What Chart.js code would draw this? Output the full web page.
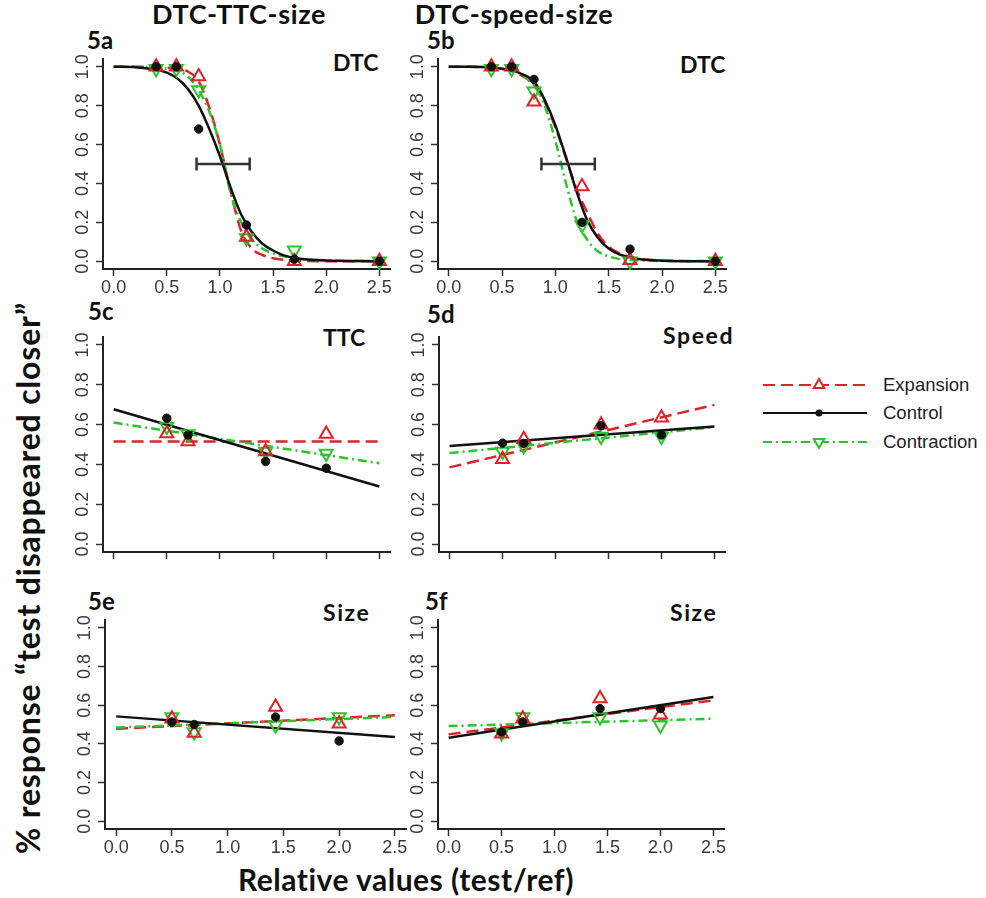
<!DOCTYPE html>
<html>
<head>
<meta charset="utf-8">
<script src="https://cdn.jsdelivr.net/npm/chart.js@4.4.1/dist/chart.umd.min.js"></script>
<style>
  html, body { margin: 0; padding: 0; background: #fff; }
  #page { position: relative; width: 986px; height: 898px; overflow: hidden; background: #fff; }
  canvas { position: absolute; }
  .t { position: absolute; font-family: Lato, "Open Sans", sans-serif; font-weight: 700; color: #111; line-height: 1; white-space: nowrap; }
  .lc { letter-spacing: 1.6px; }
  .leg { position: absolute; font-family: "Liberation Sans", Arial, sans-serif; font-size: 18.5px; color: #222; line-height: 1; white-space: nowrap; }
</style>
</head>
<body>
<div id="page">
  <div class="t" style="font-size:27px; left:89px; width:300px; text-align:center; top:0px; letter-spacing:0.6px;">DTC-TTC-size</div>
  <div class="t" style="font-size:27px; left:364px; width:300px; text-align:center; top:0px; letter-spacing:0.6px;">DTC-speed-size</div>

  <div class="t" style="font-size:24px; left:87px; top:28px;">5a</div>
  <div class="t" style="font-size:24px; left:427px; top:28px;">5b</div>
  <div class="t" style="font-size:24px; left:88px; top:299px;">5c</div>
  <div class="t" style="font-size:24px; left:427px; top:302px;">5d</div>
  <div class="t" style="font-size:24px; left:88px; top:589px;">5e</div>
  <div class="t" style="font-size:24px; left:425px; top:589px;">5f</div>

  <div class="t" style="font-size:23px; left:333px; top:51px;">DTC</div>
  <div class="t" style="font-size:23px; left:680px; top:53px;">DTC</div>
  <div class="t" style="font-size:23px; left:323px; top:326px;">TTC</div>
  <div class="t lc" style="font-size:23px; left:663px; top:324px;">Speed</div>
  <div class="t lc" style="font-size:23px; left:323px; top:601px;">Size</div>
  <div class="t lc" style="font-size:23px; left:670px; top:601px;">Size</div>

  <div class="t" style="font-size:32px; left:-318px; top:558px; width:700px; height:40px; text-align:center; transform:rotate(-90deg); letter-spacing:0.8px;">% response “test disappeared closer”</div>
  <div class="t" style="font-size:30px; left:106px; top:864px; width:600px; text-align:center; letter-spacing:0.5px;">Relative values (test/ref)</div>

  <svg style="position:absolute; left:755px; top:370px;" width="120" height="90" id="legendSvg"></svg>
  <div class="leg" style="left:883px; top:376px;">Expansion</div>
  <div class="leg" style="left:883px; top:404px;">Control</div>
  <div class="leg" style="left:883px; top:433px;">Contraction</div>
</div>

<script>
// Axis ticks shared by every panel
const X_TICKS = [0, 0.5, 1.0, 1.5, 2.0, 2.5];
const Y_TICKS = [0, 0.2, 0.4, 0.6, 0.8, 1.0];

// Stimulus levels (test/ref)
const X_DTC = [0.4, 0.59, 0.8, 1.25, 1.7, 2.5];
const X_REL = [0.5, 0.7, 1.43, 2.0];

// Sample positions for the psychometric fits and the end points of the linear fits
const CURVE_X = [0, 0.2, 0.4, 0.5, 0.6, 0.7, 0.8, 0.9, 1.0, 1.1, 1.2, 1.3, 1.4, 1.5, 1.6, 1.8, 2.0, 2.5];
const LINE_X = [0, 2.5];

// 5a: DTC-TTC-size, DTC
const A_EXP = [1.0, 1.0, 0.95, 0.125, 0.0, 0.0];
const A_CTL = [1.0, 1.0, 0.68, 0.186, 0.01, 0.0];
const A_CON = [0.99, 0.99, 0.88, 0.12, 0.057, 0.0];
const A_EXP_FIT = [1.0, 1.0, 0.998, 0.995, 0.99, 0.975, 0.925, 0.79, 0.60, 0.36, 0.155, 0.065, 0.032, 0.015, 0.007, 0.002, 0.0, 0.0];
const A_CTL_FIT = [1.0, 0.998, 0.985, 0.97, 0.94, 0.885, 0.80, 0.68, 0.54, 0.38, 0.24, 0.15, 0.09, 0.055, 0.03, 0.01, 0.004, 0.0];
const A_CON_FIT = [1.0, 1.0, 0.995, 0.99, 0.98, 0.95, 0.88, 0.77, 0.60, 0.35, 0.20, 0.11, 0.065, 0.04, 0.025, 0.01, 0.004, 0.0];
const A_BAR = [0.78, 1.28];

// 5b: DTC-speed-size, DTC
const B_EXP = [1.0, 1.0, 0.82, 0.384, 0.005, 0.0];
const B_CTL = [1.0, 1.0, 0.935, 0.2, 0.062, 0.0];
const B_CON = [0.99, 0.99, 0.874, 0.186, 0.0, 0.0];
const B_EXP_FIT = [1.0, 1.0, 0.995, 0.99, 0.975, 0.95, 0.905, 0.82, 0.69, 0.53, 0.37, 0.25, 0.14, 0.075, 0.04, 0.012, 0.004, 0.0];
const B_CTL_FIT = [1.0, 1.0, 0.997, 0.99, 0.98, 0.96, 0.925, 0.83, 0.70, 0.535, 0.357, 0.21, 0.12, 0.065, 0.035, 0.01, 0.003, 0.0];
const B_CON_FIT = [1.0, 1.0, 0.995, 0.99, 0.98, 0.955, 0.905, 0.80, 0.62, 0.40, 0.21, 0.11, 0.05, 0.025, 0.012, 0.004, 0.001, 0.0];
const B_BAR = [0.87, 1.37];
const BAR_Y = 0.5;

// 5c: TTC
const C_EXP = [0.555, 0.515, 0.465, 0.553];
const C_CTL = [0.632, 0.548, 0.415, 0.381];
const C_CON = [0.59, 0.553, 0.465, 0.455];
const C_EXP_FIT = [0.515, 0.515];
const C_CTL_FIT = [0.677, 0.289];
const C_CON_FIT = [0.61, 0.406];

// 5d: Speed
const D_EXP = [0.426, 0.527, 0.599, 0.635];
const D_CTL = [0.507, 0.505, 0.594, 0.548];
const D_CON = [0.465, 0.493, 0.54, 0.54];
const D_EXP_FIT = [0.385, 0.699];
const D_CTL_FIT = [0.493, 0.59];
const D_CON_FIT = [0.457, 0.587];

// 5e: Size (DTC-TTC-size)
const E_EXP = [0.53, 0.456, 0.59, 0.504];
const E_CTL = [0.513, 0.50, 0.539, 0.415];
const E_CON = [0.539, 0.461, 0.496, 0.539];
const E_EXP_FIT = [0.478, 0.548];
const E_CTL_FIT = [0.542, 0.435];
const E_CON_FIT = [0.484, 0.539];

// 5f: Size (DTC-speed-size)
const F_EXP = [0.452, 0.53, 0.634, 0.55];
const F_CTL = [0.461, 0.513, 0.582, 0.582];
const F_CON = [0.456, 0.539, 0.539, 0.496];
const F_EXP_FIT = [0.449, 0.625];
const F_CTL_FIT = [0.432, 0.642];
const F_CON_FIT = [0.492, 0.53];

// Styling
const RED = '#e0202a';
const BLACK = '#111111';
const GREEN = '#2cc42c';
const EXP_DASH = [12, 6];
const CON_DASH = [9, 4, 2, 4];

const pts = (xs, ys) => xs.map((x, i) => ({ x, y: ys[i] }));

function markerSets(xs, exp, ctl, con) {
  return [
    { data: pts(xs, ctl), showLine: false, pointStyle: 'circle', pointRadius: 4.2,
      pointBackgroundColor: BLACK, pointBorderColor: BLACK, pointBorderWidth: 1 },
    { data: pts(xs, exp), showLine: false, pointStyle: 'triangle', pointRadius: 7.5,
      pointBackgroundColor: 'rgba(0,0,0,0)', pointBorderColor: RED, pointBorderWidth: 2 },
    { data: pts(xs, con), showLine: false, pointStyle: 'triangle', pointRotation: 180, pointRadius: 7.5,
      pointBackgroundColor: 'rgba(0,0,0,0)', pointBorderColor: GREEN, pointBorderWidth: 2 }
  ];
}

function fitSets(xs, exp, ctl, con, smooth) {
  const base = { showLine: true, pointRadius: 0, borderWidth: 2.5, fill: false,
    cubicInterpolationMode: smooth ? 'monotone' : 'default' };
  return [
    Object.assign({ data: pts(xs, ctl), borderColor: BLACK }, base),
    Object.assign({ data: pts(xs, con), borderColor: GREEN, borderDash: CON_DASH }, base),
    Object.assign({ data: pts(xs, exp), borderColor: RED, borderDash: EXP_DASH }, base)
  ];
}

function barSet(range) {
  return { data: pts(range, [BAR_Y, BAR_Y]), showLine: true, borderColor: '#333', borderWidth: 2.5,
    pointStyle: 'line', pointRotation: 90, pointRadius: 6.5, pointBorderColor: '#333', pointBorderWidth: 2.5 };
}

// Plot-area geometry of each panel on the page
const YW = 44, XH = 36, PT = 14, PR = 14;
const PANELS = [
  { area: [103, 59, 390, 269], xlab: true,
    sets: [...markerSets(X_DTC, A_EXP, A_CTL, A_CON), barSet(A_BAR), ...fitSets(CURVE_X, A_EXP_FIT, A_CTL_FIT, A_CON_FIT, true)] },
  { area: [438, 59, 726, 269], xlab: true,
    sets: [...markerSets(X_DTC, B_EXP, B_CTL, B_CON), barSet(B_BAR), ...fitSets(CURVE_X, B_EXP_FIT, B_CTL_FIT, B_CON_FIT, true)] },
  { area: [103, 337, 390, 552], xlab: false,
    sets: [...markerSets(X_REL, C_EXP, C_CTL, C_CON), ...fitSets(LINE_X, C_EXP_FIT, C_CTL_FIT, C_CON_FIT, false)] },
  { area: [439, 337, 725, 552], xlab: false,
    sets: [...markerSets(X_REL, D_EXP, D_CTL, D_CON), ...fitSets(LINE_X, D_EXP_FIT, D_CTL_FIT, D_CON_FIT, false)] },
  { area: [105, 620, 406, 829], xlab: true,
    sets: [...markerSets(X_REL, E_EXP, E_CTL, E_CON), ...fitSets(LINE_X, E_EXP_FIT, E_CTL_FIT, E_CON_FIT, false)] },
  { area: [438, 620, 724, 829], xlab: true,
    sets: [...markerSets(X_REL, F_EXP, F_CTL, F_CON), ...fitSets(LINE_X, F_EXP_FIT, F_CTL_FIT, F_CON_FIT, false)] }
];

const TICK_FONT = { family: '"Liberation Sans", Arial, sans-serif', size: 18 };
const page = document.getElementById('page');

PANELS.forEach(p => {
  const [l, t, r, b] = p.area;
  const cv = document.createElement('canvas');
  const w = YW + (r - l) + PR, h = PT + (b - t) + XH;
  cv.width = w; cv.height = h;
  cv.style.left = (l - YW) + 'px';
  cv.style.top = (t - PT) + 'px';
  cv.style.width = w + 'px';
  cv.style.height = h + 'px';
  page.appendChild(cv);

  p.sets.forEach(s => { s.clip = false; });

  new Chart(cv, {
    type: 'scatter',
    data: { datasets: p.sets },
    options: {
      responsive: false,
      animation: false,
      devicePixelRatio: 1,
      layout: { padding: { top: PT, right: PR, left: 0, bottom: 0 } },
      plugins: { legend: { display: false }, tooltip: { enabled: false } },
      scales: {
        x: {
          type: 'linear', min: -0.1, max: 2.6,
          afterBuildTicks: s => { s.ticks = X_TICKS.map(v => ({ value: v })); },
          afterFit: s => { s.height = XH; },
          grid: { display: true, drawOnChartArea: false, drawTicks: true, tickLength: 7, tickWidth: 1.5, tickColor: '#333' },
          border: { display: true, color: '#222', width: 2 },
          ticks: { display: p.xlab, autoSkip: false, minRotation: 0, maxRotation: 0, padding: 1,
            font: TICK_FONT, color: '#3a3a3a', callback: v => Number(v).toFixed(1) }
        },
        y: {
          type: 'linear', min: -0.04, max: 1.04,
          afterBuildTicks: s => { s.ticks = Y_TICKS.map(v => ({ value: v })); },
          afterFit: s => { s.width = YW; },
          grid: { display: true, drawOnChartArea: false, drawTicks: true, tickLength: 7, tickWidth: 1.5, tickColor: '#333' },
          border: { display: true, color: '#222', width: 2 },
          ticks: { autoSkip: false, minRotation: 90, maxRotation: 90, crossAlign: 'center', padding: 0,
            font: TICK_FONT, color: '#3a3a3a', callback: v => Number(v).toFixed(1) }
        }
      }
    }
  });
});

// Legend keys: line sample with the series marker in the middle
const svg = document.getElementById('legendSvg');
const NS = 'http://www.w3.org/2000/svg';
const legendRows = [
  { y: 15, color: RED, dash: EXP_DASH.join(','), marker: 'up' },
  { y: 43, color: BLACK, dash: '', marker: 'dot' },
  { y: 72, color: GREEN, dash: CON_DASH.join(','), marker: 'down' }
];
legendRows.forEach(row => {
  const ln = document.createElementNS(NS, 'line');
  ln.setAttribute('x1', 8); ln.setAttribute('x2', 112);
  ln.setAttribute('y1', row.y); ln.setAttribute('y2', row.y);
  ln.setAttribute('stroke', row.color); ln.setAttribute('stroke-width', 2.2);
  if (row.dash) ln.setAttribute('stroke-dasharray', row.dash);
  svg.appendChild(ln);
  const cx = 64, r = 6;
  let m;
  if (row.marker === 'dot') {
    m = document.createElementNS(NS, 'circle');
    m.setAttribute('cx', cx); m.setAttribute('cy', row.y); m.setAttribute('r', 3.5);
    m.setAttribute('fill', row.color);
  } else {
    m = document.createElementNS(NS, 'polygon');
    const s = row.marker === 'up' ? -1 : 1;
    const p1 = [cx, row.y + s * r], p2 = [cx - r * 0.87, row.y - s * r * 0.5], p3 = [cx + r * 0.87, row.y - s * r * 0.5];
    m.setAttribute('points', [p1, p2, p3].map(q => q.join(',')).join(' '));
    m.setAttribute('fill', '#fff'); m.setAttribute('stroke', row.color); m.setAttribute('stroke-width', 2);
  }
  svg.appendChild(m);
});
</script>
</body>
</html>
